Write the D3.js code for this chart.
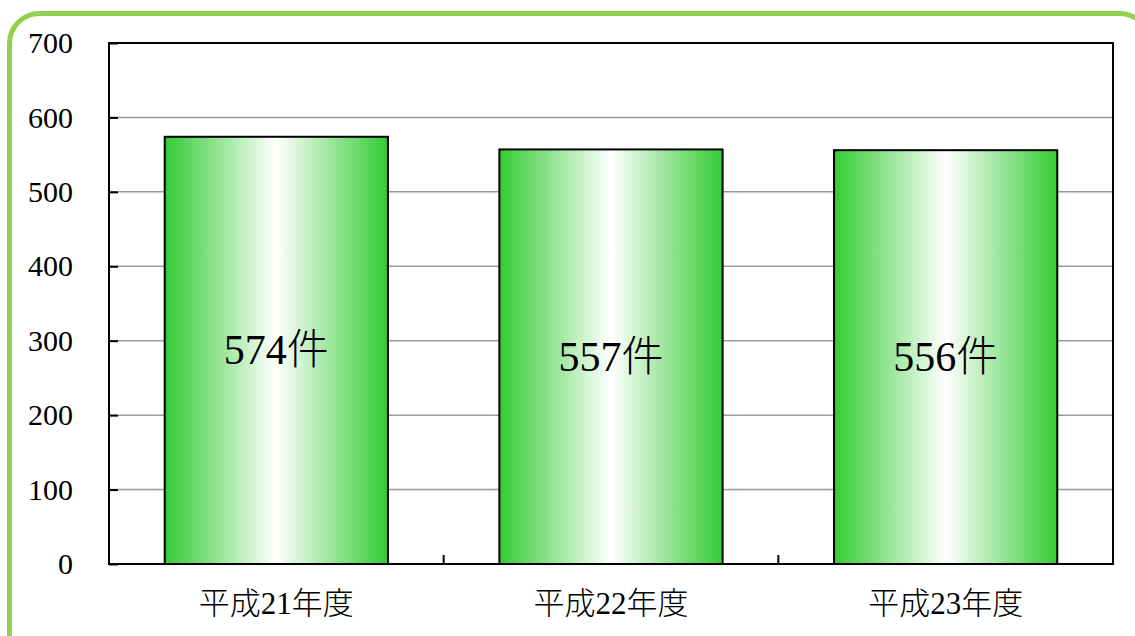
<!DOCTYPE html>
<html><head><meta charset="utf-8">
<script src="https://cdn.jsdelivr.net/npm/d3@7"></script>
<style>body{margin:0;background:#fff;}svg{display:block;} .sf{font-family:"Liberation Serif","DejaVu Serif",serif;} .cj{font-family:"Noto Sans CJK JP",sans-serif;font-weight:300;}</style>
</head><body>
<script>
const categories = ["平成21年度","平成22年度","平成23年度"];
const values = [574, 557, 556];
const barLabels = ["574件","557件","556件"];
const yTicks = [0,100,200,300,400,500,600,700];

const W = 1135, H = 636;
const m = {left:109, right:1113, top:43, bottom:564};
const svg = d3.select("body").append("svg").attr("width",W).attr("height",H);

const defs = svg.append("defs");
const g = defs.append("linearGradient").attr("id","bg").attr("x1","0%").attr("x2","100%");
g.append("stop").attr("offset","0%").attr("stop-color","#33cc33");
g.append("stop").attr("offset","50%").attr("stop-color","#ffffff");
g.append("stop").attr("offset","100%").attr("stop-color","#33cc33");

// outer rounded border
svg.append("rect").attr("x",9.5).attr("y",13.5).attr("width",1140).attr("height",650)
  .attr("rx",30).attr("ry",30).attr("fill","none").attr("stroke","#92d050").attr("stroke-width",5);

const x = d3.scaleBand().domain(categories).range([m.left,m.right]).paddingInner(0.333).paddingOuter(0.1665);
const y = d3.scaleLinear().domain([0,700]).range([m.bottom,m.top]);

// split text into digit / non-digit segments
function segs(s){ return s.match(/[0-9]+|[^0-9]+/g); }
function fillSegs(sel){
  sel.each(function(d){
    const t = d3.select(this);
    segs(t.attr("data-s")).forEach(p=>{
      t.append("tspan").attr("class", /[0-9]/.test(p) ? "sf" : "cj").text(p);
    });
  });
}

// gridlines
svg.append("g").selectAll("line").data(yTicks.filter(d=>d>0 && d<700)).join("line")
  .attr("x1",m.left).attr("x2",m.right).attr("y1",d=>y(d)).attr("y2",d=>y(d))
  .attr("stroke","#999").attr("stroke-width",1.5);

// bars
svg.append("g").selectAll("rect").data(values).join("rect")
  .attr("x",(d,i)=>x(categories[i])).attr("width",x.bandwidth())
  .attr("y",d=>y(d)).attr("height",d=>y(0)-y(d))
  .attr("fill","url(#bg)").attr("stroke","#000").attr("stroke-width",2);

// bar labels
svg.append("g").selectAll("text").data(values).join("text")
  .attr("x",(d,i)=>x(categories[i])+x.bandwidth()/2)
  .attr("y",d=>(y(d)+y(0))/2 + 14)
  .attr("text-anchor","middle")
  .attr("font-size",42).attr("fill","#000")
  .attr("data-s",(d,i)=>barLabels[i])
  .call(fillSegs);

// frame
svg.append("rect").attr("x",m.left).attr("y",m.top).attr("width",m.right-m.left).attr("height",m.bottom-m.top)
  .attr("fill","none").attr("stroke","#000").attr("stroke-width",2);

// y axis
const yAxis = d3.axisLeft(y).tickValues(yTicks).tickSize(-9).tickPadding(36);
const ya = svg.append("g").attr("transform",`translate(${m.left},0)`).call(yAxis);
ya.attr("font-family",null).attr("font-size",null);
ya.select(".domain").remove();
ya.selectAll("line").attr("stroke","#000").attr("stroke-width",2);
ya.selectAll("text").attr("class","sf").attr("font-size",30).attr("fill","#000");

// x axis category boundary ticks
const xb = d3.scaleLinear().domain([0,3]).range([m.left,m.right]);
svg.append("g").selectAll("line").data([1,2]).join("line")
  .attr("x1",d=>xb(d)).attr("x2",d=>xb(d)).attr("y1",m.bottom).attr("y2",m.bottom-9)
  .attr("stroke","#000").attr("stroke-width",2);

// x labels
svg.append("g").selectAll("text").data(categories).join("text")
  .attr("x",d=>x(d)+x.bandwidth()/2).attr("y",614)
  .attr("text-anchor","middle")
  .attr("font-size",31).attr("fill","#000")
  .attr("data-s",d=>d)
  .call(fillSegs);
</script>
</body></html>
